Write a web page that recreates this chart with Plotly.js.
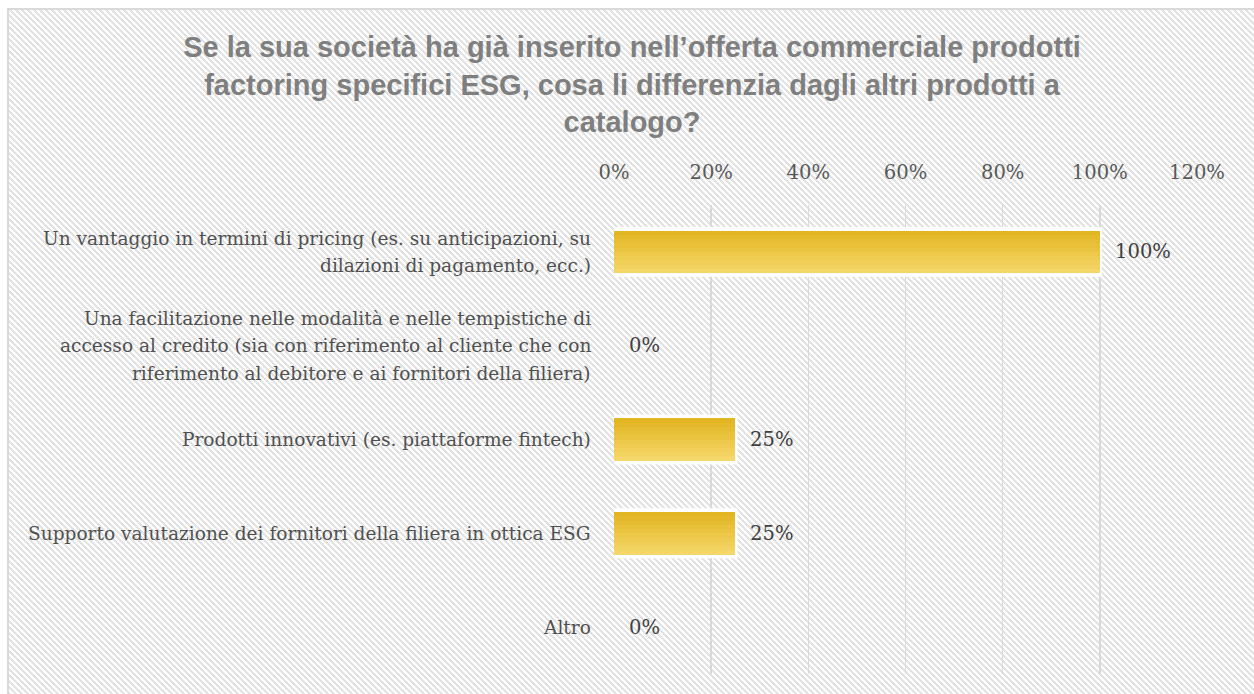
<!DOCTYPE html>
<html>
<head>
<meta charset="utf-8">
<script src="https://cdn.plot.ly/plotly-3.0.1.min.js"></script>
<style>
html,body{margin:0;padding:0;background:#fff;}
#wrap{position:relative;width:1254px;height:694px;}
#bg{position:absolute;left:7px;top:8px;width:1247px;height:686px;box-sizing:border-box;border-left:2px solid #d9d9d9;border-top:2px solid #d9d9d9;
background-color:#ffffff;
background-image:linear-gradient(45deg,#e3e3e3 25%,#ffffff 25%,#ffffff 50%,#e3e3e3 50%,#e3e3e3 75%,#ffffff 75%,#ffffff 100%);
background-size:6px 6px;}
#chart{position:absolute;left:0;top:0;width:1254px;height:694px;}
</style>
</head>
<body>
<div id="wrap">
<div id="bg"></div>
<div id="chart"></div>
</div>
<script>
const categories = [
  "Un vantaggio in termini di pricing (es. su anticipazioni, su<br>dilazioni di pagamento, ecc.)",
  "Una facilitazione nelle modalità e nelle tempistiche di<br>accesso al credito (sia con riferimento al cliente che con<br>riferimento al debitore e ai fornitori della filiera)",
  "Prodotti innovativi (es. piattaforme fintech)",
  "Supporto valutazione dei fornitori della filiera in ottica ESG",
  "Altro"
];
const values = [1.00, 0.00, 0.25, 0.25, 0.00];
const valueLabels = ["100%", "0%", "25%", "25%", "0%"];
const tickVals = [0, 0.2, 0.4, 0.6, 0.8, 1.0, 1.2];
const tickText = ["0%", "20%", "40%", "60%", "80%", "100%", "120%"];
const titleText = "Se la sua società ha già inserito nell’offerta commerciale prodotti<br>factoring specifici ESG, cosa li differenzia dagli altri prodotti a<br>catalogo?";

const serif = "DejaVu Serif, Liberation Serif, serif";

function fitSize(text, target) {
  const cv = document.createElement('canvas').getContext('2d');
  cv.font = '20px "DejaVu Serif"';
  const w = cv.measureText(text).width;
  let s = 20 * target / w;
  return Math.max(15, Math.min(21, s));
}
const labelSize = fitSize("Supporto valutazione dei fornitori della filiera in ottica ESG", 563);

const barWidth = 0.49;
const innerWidth = 0.45;
const nBands = 10;
const topColor = [225, 180, 30];
const botColor = [246, 216, 108];

const traces = [];
traces.push({
  type: 'bar', orientation: 'h', y: categories, x: values,
  width: barWidth,
  marker: {color: 'rgb(235,198,70)', line: {color: '#ffffff', width: values.map(v => v > 0 ? 4 : 0)}},
  hoverinfo: 'skip', showlegend: false
});
for (let i = 0; i < nBands; i++) {
  const t = (i + 0.5) / nBands;
  const c = topColor.map((v, k) => Math.round(v + (botColor[k] - v) * t));
  const w = innerWidth / nBands;
  traces.push({
    type: 'bar', orientation: 'h', y: categories, x: values,
    width: w + 0.002, offset: -innerWidth / 2 + i * w,
    marker: {color: 'rgb(' + c.join(',') + ')', line: {width: 0}},
    hoverinfo: 'skip', showlegend: false
  });
}

const annotations = [];
categories.forEach((c, i) => {
  annotations.push({
    x: values[i], y: c, xref: 'x', yref: 'y', text: valueLabels[i],
    showarrow: false, xanchor: 'left', yanchor: 'middle', xshift: 13,
    font: {family: serif, size: labelSize + 1, color: '#404040'}
  });
  const lines = c.split('<br>');
  const lh = 27.5;
  lines.forEach((ln, j) => {
    annotations.push({
      x: 0, y: c, xref: 'paper', yref: 'y', text: ln,
      showarrow: false, xanchor: 'right', yanchor: 'middle', xshift: -21,
      yshift: ((lines.length - 1) / 2 - j) * lh,
      font: {family: serif, size: labelSize, color: '#505050'}
    });
  });
});

const layout = {
  width: 1254, height: 694,
  margin: {l: 614, r: 57, t: 205, b: 20},
  paper_bgcolor: 'rgba(0,0,0,0)', plot_bgcolor: 'rgba(0,0,0,0)',
  barmode: 'overlay', bargap: 0,
  title: {
    text: titleText, xref: 'container', x: 0.504, xanchor: 'center',
    yref: 'container', y: 1 - 57 / 694, yanchor: 'top',
    font: {family: 'Liberation Sans, Arial, sans-serif', size: 29, color: '#7f7f7f', weight: 'bold'}
  },
  xaxis: {
    side: 'top', range: [0, 1.2], tickvals: tickVals, ticktext: tickText,
    showgrid: true, gridcolor: '#d9d9d9', gridwidth: 1.5, zeroline: false,
    showline: false, ticks: '', ticklabelstandoff: 21,
    tickfont: {family: serif, size: labelSize + 1, color: '#595959'}, fixedrange: true
  },
  yaxis: {
    type: 'category', autorange: 'reversed', showgrid: false, zeroline: false,
    showline: false, ticks: '', showticklabels: false, fixedrange: true
  },
  annotations: annotations
};

Plotly.newPlot('chart', traces, layout, {displayModeBar: false, staticPlot: true});
</script>
</body>
</html>
